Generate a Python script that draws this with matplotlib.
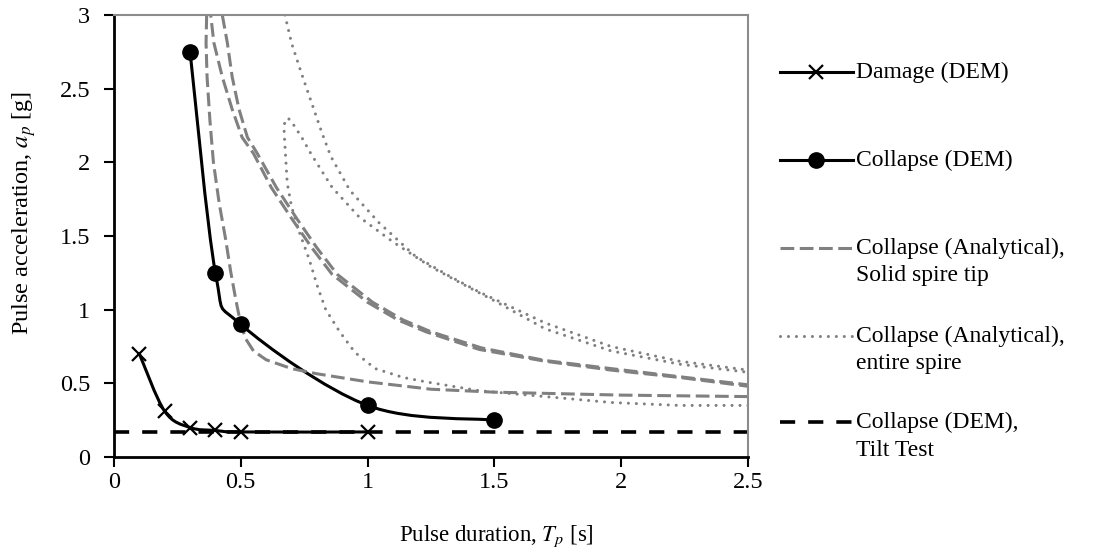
import numpy as np
import matplotlib.pyplot as plt
from matplotlib.lines import Line2D
from matplotlib.path import Path
from matplotlib.patches import PathPatch

plt.rcParams["font.family"] = "Liberation Serif"
plt.rcParams["mathtext.fontset"] = "stix"

# DEM results
damage_T = [0.1, 0.2, 0.3, 0.4, 0.5, 1.0]
damage_a = [0.70, 0.31, 0.20, 0.18, 0.17, 0.17]
collapse_T = [0.3, 0.4, 0.5, 1.0, 1.5]
collapse_a = [2.75, 1.25, 0.90, 0.35, 0.25]
tilt_T = [0.0, 2.5]
tilt_a = [0.17, 0.17]

# analytical, solid spire tip (two curves, the first folds over above the top)
tip1_T = [2.5, 2.0, 1.5, 1.25, 1.0, 0.8, 0.7, 0.6, 0.55, 0.52, 0.5, 0.48, 0.46, 0.44,
          0.415, 0.392, 0.378, 0.367, 0.363, 0.366, 0.38, 0.394, 0.427, 0.466, 0.505,
          0.55, 0.62, 0.70, 0.78, 0.86, 1.0, 1.12, 1.23, 1.44, 1.7, 1.96, 2.23, 2.5]
tip1_a = [0.41, 0.42, 0.44, 0.46, 0.51, 0.565, 0.60, 0.66, 0.72, 0.80, 0.90, 1.07, 1.26, 1.48,
          1.72, 2.00, 2.29, 2.58, 2.81, 3.05, 3.02, 2.81, 2.58, 2.36, 2.17,
          2.06, 1.83, 1.62, 1.42, 1.24, 1.05, 0.93, 0.85, 0.73, 0.65, 0.59, 0.54, 0.48]
tip2_T = [0.427, 0.447, 0.466, 0.493, 0.526, 0.565, 0.64, 0.72, 0.80, 0.88, 1.02, 1.14,
          1.25, 1.45, 1.7, 1.96, 2.23, 2.5]
tip2_a = [3.0, 2.81, 2.58, 2.36, 2.17, 2.06, 1.83, 1.62, 1.42, 1.24, 1.05, 0.93,
          0.85, 0.74, 0.655, 0.60, 0.545, 0.49]

# analytical, entire spire
spire1_T = [0.674, 0.70, 0.74, 0.78, 0.82, 0.855, 0.93, 1.045, 1.19, 1.32, 1.44, 1.70,
            1.96, 2.23, 2.5]
spire1_a = [3.0, 2.81, 2.6, 2.4, 2.2, 2.04, 1.81, 1.59, 1.36, 1.23, 1.12, 0.91,
            0.75, 0.65, 0.59]
spire2_T = [2.5, 2.23, 1.96, 1.70, 1.44, 1.23, 1.14, 1.03, 0.95, 0.89, 0.835, 0.80, 0.77,
            0.73, 0.70, 0.683, 0.676, 0.672, 0.670, 0.678, 0.687, 0.71, 0.74, 0.776,
            0.86, 0.966, 1.10, 1.25, 1.39, 1.5, 1.70, 1.96, 2.23, 2.5]
spire2_a = [0.35, 0.35, 0.37, 0.41, 0.45, 0.51, 0.54, 0.60, 0.71, 0.85, 1.0, 1.17, 1.34,
            1.53, 1.70, 1.86, 2.06, 2.17, 2.25, 2.29, 2.30, 2.25, 2.17, 2.06,
            1.83, 1.63, 1.46, 1.29, 1.16, 1.06, 0.87, 0.72, 0.63, 0.575]

x_ticks = [0, 0.5, 1, 1.5, 2, 2.5]
y_ticks = [0, 0.5, 1, 1.5, 2, 2.5, 3]

W, H = 1108, 557
GRAY = "#808080"


def smooth_path(xs, ys):
    # excel style smoothed line: cubic bezier through the points
    p = np.column_stack([xs, ys])
    verts = [p[0]]
    codes = [Path.MOVETO]
    n = len(p)
    for i in range(n - 1):
        p0 = p[i - 1] if i > 0 else p[i]
        p3 = p[i + 2] if i + 2 < n else p[i + 1]
        c1 = p[i] + (p[i + 1] - p0) / 6
        c2 = p[i + 1] - (p3 - p[i]) / 6
        verts += [c1, c2, p[i + 1]]
        codes += [Path.CURVE4] * 3
    return Path(verts, codes)


fig = plt.figure(figsize=(W / 100, H / 100), dpi=100)
ax = fig.add_axes([114 / W, 1 - 457 / H, (748 - 114) / W, (457 - 15) / H])

dash_gray = (0, (4.5, 1.8))
dot_gray = (0, (0.01, 2.6))
dash_black = (0, (4.2, 3.6))

ax.plot(tip1_T, tip1_a, color=GRAY, lw=2.2, ls=dash_gray)
ax.plot(tip2_T, tip2_a, color=GRAY, lw=2.2, ls=dash_gray)
ax.plot(spire1_T, spire1_a, color=GRAY, lw=2.2, ls=dot_gray, dash_capstyle="round")
ax.plot(spire2_T, spire2_a, color=GRAY, lw=2.2, ls=dot_gray, dash_capstyle="round")
ax.plot(tilt_T, tilt_a, color="black", lw=2.6, ls=dash_black)

ax.add_patch(PathPatch(smooth_path(damage_T, damage_a), fill=False, lw=2.2, color="black"))
ax.add_patch(PathPatch(smooth_path(collapse_T, collapse_a), fill=False, lw=2.2, color="black"))
ax.plot(damage_T, damage_a, ls="none", marker="x", ms=10, mew=1.6, color="black")
ax.plot(collapse_T, collapse_a, ls="none", marker="o", ms=11, color="black")

ax.set_xlim(0, 2.5)
ax.set_ylim(0, 3)
ax.set_xticks(x_ticks)
ax.set_yticks(y_ticks)
ax.set_xticklabels([f"{v:g}" for v in x_ticks])
ax.set_yticklabels([f"{v:g}" for v in y_ticks])
ax.tick_params(direction="out", length=7, width=1.5, labelsize=17.5, color="black")
ax.tick_params(axis="y", pad=10)
for s in ["left", "bottom"]:
    ax.spines[s].set_color("black")
    ax.spines[s].set_linewidth(2)
for s in ["top", "right"]:
    ax.spines[s].set_color("#8c8c8c")
    ax.spines[s].set_linewidth(1.5)

ax.set_xlabel("Pulse duration, $T_p$ [s]", fontsize=16.5)
ax.set_ylabel("Pulse acceleration, $a_p$ [g]", fontsize=17.5)
ax.xaxis.set_label_coords((496 - 114) / (748 - 114), -(536 - 457) / (457 - 15))
ax.yaxis.set_label_coords(-(114 - 24) / (748 - 114), (457 - 213) / (457 - 15))
ax.xaxis.label.set_va("center")
ax.yaxis.label.set_va("center")

# legend drawn by hand so the handles line up with the first text line
entries = [
    (72, ["Damage (DEM)"], dict(color="black", lw=2.2, marker="x", ms=10, mew=1.6)),
    (160, ["Collapse (DEM)"], dict(color="black", lw=2.2, marker="o", ms=11)),
    (248, ["Collapse (Analytical),", "Solid spire tip"], dict(color=GRAY, lw=2.2, ls=dash_gray)),
    (336, ["Collapse (Analytical),", "entire spire"],
     dict(color=GRAY, lw=2.2, ls=dot_gray, dash_capstyle="round")),
    (422, ["Collapse (DEM),", "Tilt Test"], dict(color="black", lw=2.6, ls=dash_black)),
]
for y, lines, style in entries:
    mk = style.pop("marker", None)
    ms = style.pop("ms", None)
    mew = style.pop("mew", None)
    fig.add_artist(Line2D([780 / W, 853 / W], [1 - y / H, 1 - y / H], **style))
    if mk:
        fig.add_artist(Line2D([816 / W], [1 - y / H], marker=mk, ms=ms, mew=mew,
                              color="black", ls="none"))
    for i, t in enumerate(lines):
        fig.text(856 / W, 1 - (y + 28 * i) / H, t, fontsize=17, va="center", ha="left")

fig.savefig("out.png", dpi=100)
